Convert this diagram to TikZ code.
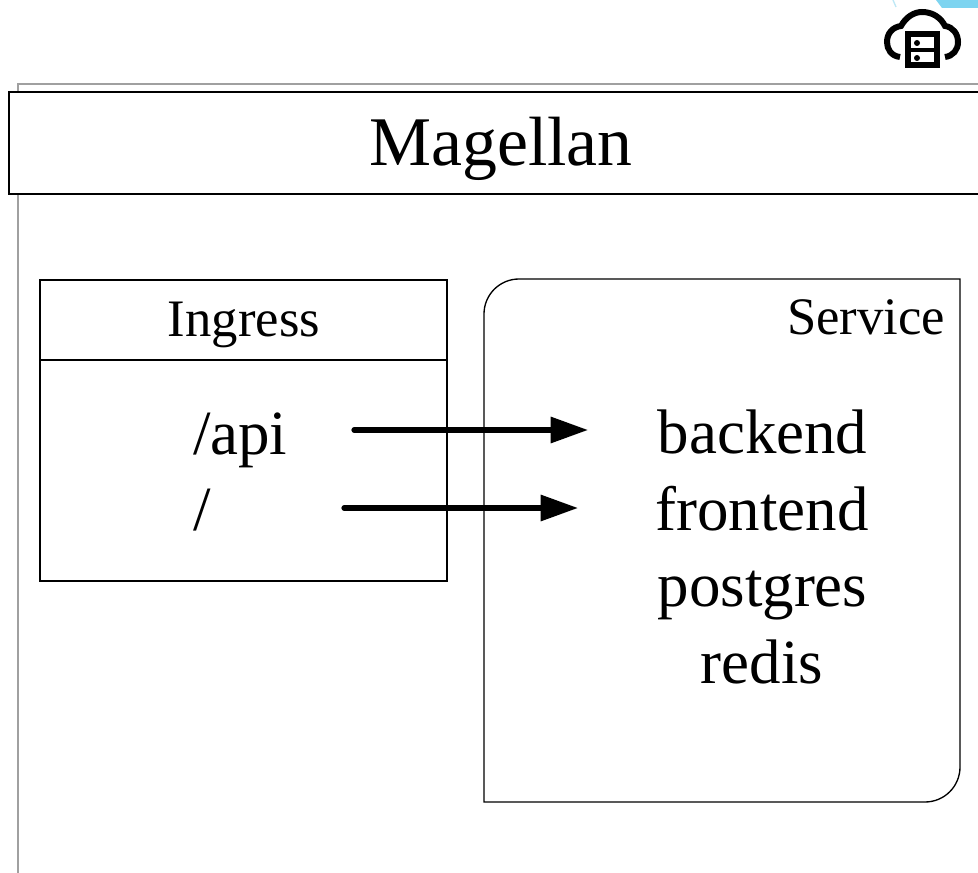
\documentclass[tikz,border=0pt]{standalone}
\usepackage{fontspec}
\setmainfont{Liberation Serif}
\usetikzlibrary{arrows.meta,positioning,calc}
\definecolor{framegray}{RGB}{160,160,160}
\definecolor{skyblue}{RGB}{125,212,240}
\definecolor{paleblue}{RGB}{190,232,246}
\tikzset{
  px/.style={x=0.75pt,y=-0.75pt},
  box/.style={draw=black,line width=1pt,fill=white,inner sep=0pt,outer sep=0pt,anchor=north west},
  lbl/.style={inner sep=0pt,outer sep=0pt,anchor=base,text=black},
  big/.style={lbl,font=\fontsize{47.2}{47}\selectfont},
  mid/.style={lbl,font=\fontsize{39.5}{40}\selectfont},
  route/.style={line width=3.9pt,line cap=round,-{Triangle[length=28pt,width=19pt]},shorten >=0pt},
  iconline/.style={line width=4.5pt,draw=black}
}
\begin{document}
\begin{tikzpicture}[px]
\useasboundingbox (0,0) rectangle (978,873);
\fill[white] (0,0) rectangle (978,873);
\begin{scope}
\clip (0,0) rectangle (978,873);
\fill[skyblue] (936,0) -- (978,0) -- (978,8) -- (942,8) -- cycle;
\draw[paleblue,line width=1pt] (893,0) -- (896,7);
% outer frame
\draw[framegray,line width=1.1pt] (18,900) -- (18,84) -- (1000,84);
% title
\node[box,minimum width=1000*0.75pt,minimum height=102*0.75pt] (title) at (9,92) {};
\node[lbl,font=\fontsize{52.3}{52}\selectfont] (titletext) at (501,166) {Magellan};
% ingress
\node[box,minimum width=407*0.75pt,minimum height=301*0.75pt] (ingress) at (40,280) {};
\draw[line width=1pt] (40,360) coordinate (ingressrule) -- (447,360) coordinate (ingressruleend);
\node[mid] (ingresstext) at (244,337) {Ingress};
\node[big,anchor=base west] (api) at (193,455) {/api};
\node[big,anchor=base west] (root) at (193,530) {/};
% service
\draw[line width=1pt] (484,802) -- (484,314) arc[start angle=180,end angle=270,radius=35] -- (960,279) -- (960,767) arc[start angle=0,end angle=90,radius=35] -- cycle;
\node[mid] (servicetext) at (866,335) {Service};
\node[big] (backend) at (762.5,453) {backend};
\node[big] (frontend) at (762,530) {frontend};
\node[big] (postgres) at (762.5,606) {postgres};
\node[big] (redis) at (762,683) {redis};
% arrows
\coordinate (apistart) at (354,430);
\coordinate (apiend) at (588,430);
\coordinate (rootstart) at (344,508);
\coordinate (rootend) at (578,508);
\draw[route] (apistart) -- (apiend);
\draw[route] (rootstart) -- (rootend);
% cloud icon
\draw[iconline] (900,57) .. controls (891,56) and (887,49) .. (887,42) .. controls (887,33) and (893,27) .. (901,26) .. controls (906,17) and (914,12) .. (922,12) .. controls (933,12) and (941,18) .. (945,26) .. controls (953,27) and (958,34) .. (958,42) .. controls (958,50) and (953,56) .. (945,57);
\draw[line width=4.5pt,fill=white] (907.5,34.5) rectangle (936.5,65.5);
\draw[line width=3.4pt] (907.5,50) -- (936.5,50);
\fill (917,43) circle[radius=3];
\fill (917,58) circle[radius=3];
\end{scope}
\end{tikzpicture}
\end{document}
